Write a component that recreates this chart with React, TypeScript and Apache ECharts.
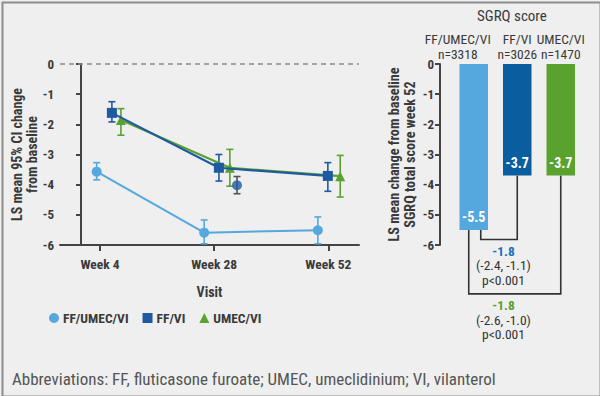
import React, { useEffect, useRef } from "react";
import * as echarts from "echarts";

// ---------- data ----------
const visits = ["Week 4", "Week 28", "Week 52"];
const visitWeeks = [4, 28, 52];
const seriesNames = ["FF/UMEC/VI", "FF/VI", "UMEC/VI"];

// plotted x positions (weeks, dodged as in the original)
const tripleX = [3.3, 25.9, 49.8];
const tripleMean = [-3.57, -5.59, -5.51];
const tripleLo = [-3.84, -5.96, -5.96];
const tripleHi = [-3.27, -5.17, -5.07];

const ffviX = [6.5, 29.0, 51.9];
const ffviMean = [-1.62, -3.44, -3.71];
const ffviLo = [-1.92, -3.88, -4.22];
const ffviHi = [-1.25, -3.0, -3.27];

const umecX = [8.4, 31.3, 54.5];
const umecMean = [-1.86, -3.44, -3.72];
const umecLo = [-2.36, -4.05, -4.41];
const umecHi = [-1.48, -2.83, -3.03];

const extraX = [32.8];
const extraMean = [-4.02];
const extraLo = [-4.3];
const extraHi = [-3.73];

const barGroups = ["FF/UMEC/VI", "FF/VI", "UMEC/VI"];
const barN = ["n=3318", "n=3026", "n=1470"];
const barValues = [-5.5, -3.7, -3.7];

const compFrom = [0, 0];
const compTo = [1, 2];
const compDepth = [-5.82, -7.62];
const compDiff = ["-1.8", "-1.8"];
const compCI = ["(-2.4, -1.1)", "(-2.6, -1.0)"];
const compP = ["p<0.001", "p<0.001"];

// ---------- styles ----------
const FONT = "'Roboto Condensed', 'Liberation Sans Narrow', 'DejaVu Sans Condensed', 'Roboto', sans-serif";
const LB = "#55a8dd";
const DB = "#1f5aa0";
const DB_BAR = "#0a5d9e";
const GR = "#5aa22e";
const TXT = "#3a3a3a";
const AX = "#444";

const zip = (xs: number[], ys: number[]) => xs.map((x, i) => [x, ys[i]]);
const zip3 = (xs: number[], a: number[], b: number[]) => xs.map((x, i) => [x, a[i], b[i]]);

function errSeries(name: string, data: number[][], color: string) {
  return {
    type: "custom",
    name,
    xAxisIndex: 0,
    yAxisIndex: 0,
    encode: { x: 0, y: [1, 2] },
    data,
    z: 3,
    silent: true,
    renderItem: (params: any, api: any) => {
      const x = api.value(0);
      const lo = api.coord([x, api.value(1)]);
      const hi = api.coord([x, api.value(2)]);
      const w = 3.5;
      const style = { stroke: color, lineWidth: 1.6, fill: "none" };
      return {
        type: "group",
        children: [
          { type: "line", shape: { x1: lo[0], y1: lo[1], x2: hi[0], y2: hi[1] }, style },
          { type: "line", shape: { x1: lo[0] - w, y1: lo[1], x2: lo[0] + w, y2: lo[1] }, style },
          { type: "line", shape: { x1: hi[0] - w, y1: hi[1], x2: hi[0] + w, y2: hi[1] }, style },
        ],
      };
    },
  };
}

export default function App() {
  const ref = useRef<HTMLDivElement>(null);
  useEffect(() => {
    if (!ref.current) return;
    const chart = echarts.init(ref.current, null, { renderer: "svg" });
    const labelStyle = { fontFamily: FONT, fontWeight: "bold" as const, fontSize: 13, color: TXT };
    const option: any = {
      animation: false,
      backgroundColor: "#eeefee",
      textStyle: { fontFamily: FONT },
      grid: [
        { left: 60, top: 64, width: 299, height: 181 },
        { left: 452, top: 64, width: 130.5, height: 181 },
      ],
      xAxis: [
        {
          type: "value",
          gridIndex: 0,
          min: -4.41,
          max: 58.45,
          splitLine: { show: false },
          axisLine: { show: true, onZero: false, lineStyle: { color: AX, width: 2 } },
          axisTick: { show: true, customValues: visitWeeks, length: 6, lineStyle: { color: AX, width: 2 } },
          axisLabel: {
            customValues: visitWeeks,
            formatter: (v: number) => visits[visitWeeks.indexOf(v)] ?? "",
            margin: 12,
            ...labelStyle,
            fontSize: 13.5,
          },
          name: "Visit",
          nameLocation: "middle",
          nameGap: 40,
          nameTextStyle: { ...labelStyle, fontSize: 14 },
        },
        {
          type: "category",
          gridIndex: 1,
          position: "top",
          data: barGroups,
          axisLine: { show: false },
          axisTick: { show: false },
          axisLabel: {
            margin: 3,
            interval: 0,
            formatter: (v: string, i: number) => {
              const t = i === 0 ? "a" : "b";
              return `{${t}|${v}}\n{${t}|${barN[i]}}`;
            },
            rich: {
              a: { fontFamily: FONT, fontSize: 13.5, color: TXT, lineHeight: 15, padding: [0, 32, 0, 0] },
              b: { fontFamily: FONT, fontSize: 13.5, color: TXT, lineHeight: 15 },
            },
          },
        },
      ],
      yAxis: [
        {
          type: "value",
          gridIndex: 0,
          min: -6,
          max: 0,
          interval: 1,
          splitLine: { show: false },
          axisLine: { show: true, lineStyle: { color: AX, width: 2 } },
          axisTick: { show: true, length: 5, lineStyle: { color: AX, width: 2 } },
          axisLabel: { ...labelStyle, margin: 6 },
          name: "LS mean 95% CI change\nfrom baseline",
          nameLocation: "middle",
          nameRotate: 90,
          nameGap: 20.5,
          nameMoveOverlap: false,
          nameTextStyle: { ...labelStyle, fontSize: 14, lineHeight: 15 },
        },
        {
          type: "value",
          gridIndex: 1,
          min: -6,
          max: 0,
          interval: 1,
          offset: 12,
          splitLine: { show: false },
          axisLine: { show: true, lineStyle: { color: AX, width: 2 } },
          axisTick: { show: true, length: 5, lineStyle: { color: AX, width: 2 } },
          axisLabel: { ...labelStyle, margin: 6 },
          name: "LS mean change from baseline\nSGRQ total score week 52",
          nameLocation: "middle",
          nameRotate: 90,
          nameGap: 22.5,
          nameMoveOverlap: false,
          nameTextStyle: { ...labelStyle, fontSize: 14.2, lineHeight: 16 },
        },
      ],
      legend: {
        left: 44,
        top: 306,
        itemWidth: 10,
        itemHeight: 10,
        itemGap: 14,
        textStyle: { ...labelStyle, fontSize: 13.5, padding: [0, 0, 0, -1] },
        data: [
          { name: seriesNames[0], icon: "circle" },
          { name: seriesNames[1], icon: "rect" },
          { name: seriesNames[2], icon: "triangle" },
        ],
      },
      series: [
        errSeries("err0", zip3(tripleX, tripleLo, tripleHi), LB),
        errSeries("err1", zip3(ffviX, ffviLo, ffviHi), DB),
        errSeries("err2", zip3(umecX, umecLo, umecHi), GR),
        errSeries("err3", zip3(extraX, extraLo, extraHi), "#555"),
        {
          type: "line",
          name: seriesNames[2],
          xAxisIndex: 0,
          yAxisIndex: 0,
          data: zip(umecX, umecMean),
          symbol: "triangle",
          symbolSize: 10,
          itemStyle: { color: GR },
          lineStyle: { color: GR, width: 2.2 },
          z: 4,
        },
        {
          type: "line",
          name: seriesNames[1],
          xAxisIndex: 0,
          yAxisIndex: 0,
          data: zip(ffviX, ffviMean),
          symbol: "rect",
          symbolSize: 10,
          itemStyle: { color: DB },
          lineStyle: { color: DB, width: 2.2 },
          z: 5,
        },
        {
          type: "line",
          name: seriesNames[0],
          xAxisIndex: 0,
          yAxisIndex: 0,
          data: zip(tripleX, tripleMean),
          symbol: "circle",
          symbolSize: 10,
          itemStyle: { color: LB },
          lineStyle: { color: LB, width: 2 },
          z: 5,
          markLine: {
            silent: true,
            symbol: "none",
            label: { show: false },
            lineStyle: { color: "#8a8a8a", type: [5, 4], width: 1.5 },
            data: [{ yAxis: 0 }],
          },
        },
        {
          type: "scatter",
          name: "extra",
          xAxisIndex: 0,
          yAxisIndex: 0,
          data: zip(extraX, extraMean),
          symbol: "circle",
          symbolSize: 10,
          itemStyle: { color: DB },
          z: 5,
        },
        {
          type: "bar",
          name: "bars",
          xAxisIndex: 1,
          yAxisIndex: 1,
          barWidth: 28.5,
          data: barValues.map((v, i) => ({
            value: v,
            itemStyle: { color: [LB, DB_BAR, GR][i] },
          })),
          label: {
            show: true,
            position: "insideBottom",
            distance: 6,
            color: "#fff",
            fontFamily: FONT,
            fontWeight: "bold",
            fontSize: 14,
            formatter: (p: any) => String(p.value.toFixed(1)),
          },
        },
        {
          type: "custom",
          name: "comparisons",
          xAxisIndex: 1,
          yAxisIndex: 1,
          silent: true,
          clip: false,
          data: compFrom.map((f, i) => [f, compTo[i], compDepth[i]]),
          renderItem: (params: any, api: any) => {
            const i = params.dataIndex;
            const f = api.value(0);
            const t = api.value(1);
            const d = api.value(2);
            const legOffset = i === 0 ? 7 : -5;
            const a0 = api.coord([f, barValues[f]]);
            const b0 = api.coord([t, barValues[t]]);
            const bottom = api.coord([f, d])[1];
            const ax = a0[0] + legOffset;
            const bx = b0[0];
            const tx = (api.coord([0, 0])[0] + api.coord([1, 0])[0]) / 2 + 8;
            const style = { stroke: "#333", lineWidth: 1.6, fill: "none" };
            return {
              type: "group",
              children: [
                {
                  type: "polyline",
                  shape: { points: [[ax, a0[1]], [ax, bottom], [bx, bottom], [bx, b0[1]]] },
                  style,
                },
                {
                  type: "text",
                  style: {
                    text: `{d|${compDiff[i]}}\n{n|${compCI[i]}}\n{n|${compP[i]}}`,
                    x: tx,
                    y: bottom + 4,
                    align: "center",
                    verticalAlign: "top",
                    rich: {
                      d: {
                        fill: i === 0 ? "#1d6fb8" : GR,
                        fontFamily: FONT,
                        fontSize: 13.5,
                        fontWeight: "bold",
                        lineHeight: 14.5,
                      },
                      n: {
                        fill: "#333",
                        fontFamily: FONT,
                        fontSize: 13.5,
                        lineHeight: 14.5,
                      },
                    },
                  },
                },
              ],
            };
          },
        },
      ],
      graphic: [
        {
          type: "text",
          left: 477,
          top: 8,
          style: { text: "SGRQ score", fontFamily: FONT, fontSize: 15, fill: TXT },
        },
        {
          type: "text",
          left: 12,
          top: 370,
          style: {
            text: "Abbreviations: FF, fluticasone furoate; UMEC, umeclidinium; VI, vilanterol",
            fontFamily: FONT,
            fontSize: 17,
            fill: "#555",
          },
        },
        {
          type: "rect",
          left: 0,
          top: 0,
          shape: { x: 0, y: 0, width: 598, height: 394 },
          position: [1, 1],
          style: { fill: "none", stroke: "#8d8d8d", lineWidth: 2 },
          silent: true,
          z: 100,
        },
      ],
    };
    chart.setOption(option);
    return () => chart.dispose();
  }, []);
  return (
    <div
      ref={ref}
      style={{ position: "fixed", left: 0, top: 0, width: 600, height: 396 }}
    />
  );
}
